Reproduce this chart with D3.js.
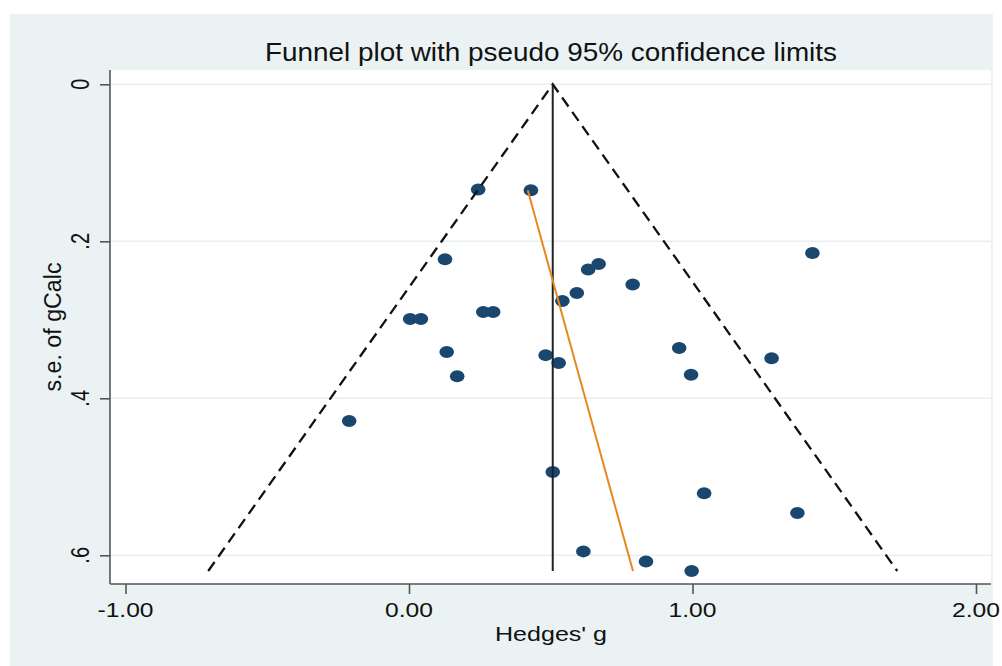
<!DOCTYPE html>
<html>
<head>
<meta charset="utf-8">
<script src="https://cdn.jsdelivr.net/npm/d3@7"></script>
<style>
  body { margin: 0; background: #ffffff; }
  svg text { font-family: "Liberation Sans", Arial, sans-serif; fill: #111; }
</style>
</head>
<body>
<div id="funnel"></div>
<script>
// study effects (Hedges' g) and their standard errors
var hedgesG = [0.244, 0.430, 1.423, 0.127, 0.669, 0.632, 0.789, 0.592, 0.541, 0.262,
               0.297, 0.004, 0.042, 0.953, 0.133, 0.482, 1.279, 0.528, 0.995, 0.170,
               -0.211, 0.507, 1.041, 1.370, 0.615, 0.836, 0.997];
var seG = [0.134, 0.135, 0.215, 0.223, 0.229, 0.236, 0.255, 0.266, 0.276, 0.290,
           0.290, 0.299, 0.299, 0.336, 0.341, 0.345, 0.349, 0.355, 0.370, 0.372,
           0.429, 0.494, 0.521, 0.546, 0.595, 0.608, 0.620];

// pooled estimate and largest s.e. for the pseudo 95% limits
var pooledG = 0.507;
var maxSE = 0.620;

// fitted (orange) line, two end points
var fitG = [0.419, 0.790];
var fitSE = [0.135, 0.620];

var xTicks = [-1, 0, 1, 2];
var xTickLabels = ["-1.00", "0.00", "1.00", "2.00"];
var yTicks = [0, 0.2, 0.4, 0.6];
var yTickLabels = ["0", ".2", ".4", ".6"];

var width = 1002, height = 666;
var plot = {left: 110, right: 991, top: 70, bottom: 584};

var svg = d3.select("#funnel").append("svg")
    .attr("width", width)
    .attr("height", height);

// graph region and plot region backgrounds
svg.append("rect")
    .attr("x", 10).attr("y", 14)
    .attr("width", 983).attr("height", height - 14)
    .attr("fill", "#eaf2f3");
svg.append("rect")
    .attr("x", plot.left).attr("y", plot.top)
    .attr("width", plot.right - plot.left).attr("height", plot.bottom - plot.top)
    .attr("fill", "#ffffff");

var x = d3.scaleLinear().domain([-1, 2]).range([125.5, 976]);
var y = d3.scaleLinear().domain([0, 0.6]).range([84.3, 555.3]);

// horizontal gridlines
svg.selectAll(".grid").data(yTicks).enter()
    .append("line")
    .attr("class", "grid")
    .attr("x1", plot.left).attr("x2", plot.right)
    .attr("y1", d => y(d)).attr("y2", d => y(d))
    .attr("stroke", "#e6eff1")
    .attr("stroke-width", 1.6);

// axes
var yAxis = d3.axisLeft(y).tickValues(yTicks).tickSize(10).tickFormat("");
var xAxis = d3.axisBottom(x).tickValues(xTicks).tickSize(10).tickFormat("");

var gy = svg.append("g").attr("transform", "translate(" + plot.left + ",0)").call(yAxis);
gy.select(".domain").attr("d", "M0," + plot.top + "V" + plot.bottom);
var gx = svg.append("g").attr("transform", "translate(0," + plot.bottom + ")").call(xAxis);
gx.select(".domain").attr("d", "M" + plot.left + ",0H" + plot.right);
svg.selectAll(".domain, .tick line")
    .attr("stroke", "#555")
    .attr("stroke-width", 1.6);

// tick labels (the reference is a little wider than tall, so stretch horizontally)
svg.selectAll(".xlab").data(xTicks).enter()
    .append("text")
    .attr("class", "xlab")
    .attr("text-anchor", "middle")
    .attr("font-size", 20)
    .attr("transform", d => "translate(" + x(d) + ",617) scale(1.23,1)")
    .text((d, i) => xTickLabels[i]);

svg.selectAll(".ylab").data(yTicks).enter()
    .append("text")
    .attr("class", "ylab")
    .attr("text-anchor", "middle")
    .attr("font-size", 20)
    .attr("transform", d => "translate(89," + y(d) + ") scale(1.28,1) rotate(-90)")
    .text((d, i) => yTickLabels[i]);

// titles
svg.append("text")
    .attr("x", 551).attr("y", 61)
    .attr("text-anchor", "middle")
    .attr("font-size", 25)
    .attr("textLength", 572)
    .attr("lengthAdjust", "spacingAndGlyphs")
    .text("Funnel plot with pseudo 95% confidence limits");

svg.append("text")
    .attr("x", 551).attr("y", 641)
    .attr("text-anchor", "middle")
    .attr("font-size", 21)
    .attr("textLength", 112)
    .attr("lengthAdjust", "spacingAndGlyphs")
    .text("Hedges' g");

svg.append("text")
    .attr("transform", "translate(61,327) scale(1.1,1) rotate(-90)")
    .attr("text-anchor", "middle")
    .attr("font-size", 21)
    .attr("textLength", 129)
    .attr("lengthAdjust", "spacingAndGlyphs")
    .text("s.e. of gCalc");

// study markers
svg.selectAll(".study").data(hedgesG).enter()
    .append("ellipse")
    .attr("class", "study")
    .attr("cx", d => x(d))
    .attr("cy", (d, i) => y(seG[i]))
    .attr("rx", 7.3)
    .attr("ry", 6)
    .attr("fill", "#1a476f");

// pseudo 95% confidence limits
var funnel = [[pooledG - 1.96 * maxSE, maxSE], [pooledG, 0], [pooledG + 1.96 * maxSE, maxSE]];
var line = d3.line().x(d => x(d[0])).y(d => y(d[1]));
svg.append("path")
    .attr("d", line(funnel))
    .attr("fill", "none")
    .attr("stroke", "#111")
    .attr("stroke-width", 2.3)
    .attr("stroke-dasharray", "11,6.5");

// pooled estimate
svg.append("path")
    .attr("d", line([[pooledG, 0], [pooledG, maxSE]]))
    .attr("stroke", "#222")
    .attr("stroke-width", 2);

// fitted line
svg.append("path")
    .attr("d", line(fitG.map((g, i) => [g, fitSE[i]])))
    .attr("stroke", "#e8871e")
    .attr("stroke-width", 2);
</script>
</body>
</html>
